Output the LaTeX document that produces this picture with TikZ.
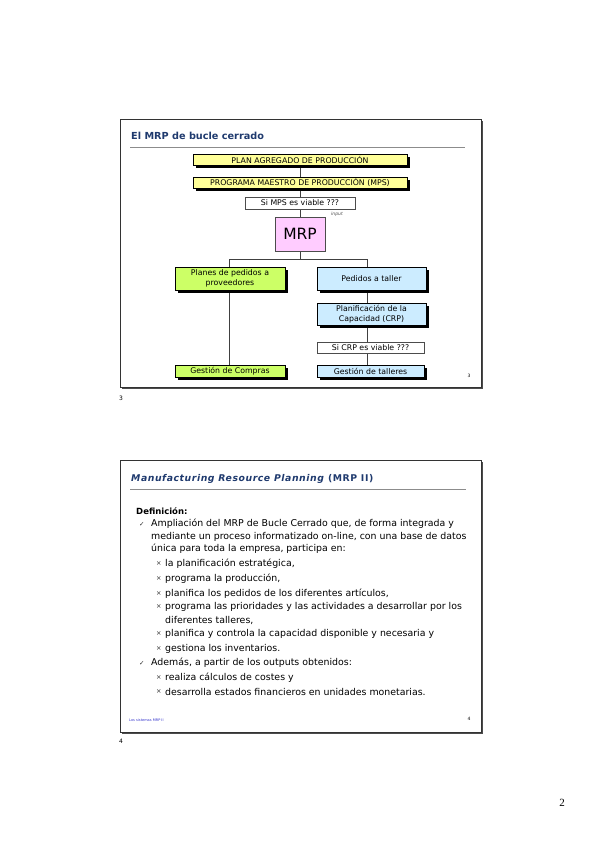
\documentclass[tikz,border=0pt]{standalone}
\usepackage{fontspec}
\setmainfont{DejaVu Sans}
\newfontfamily\serifpn{Liberation Serif}
\newfontfamily\dejavu{DejaVu Sans}
\usetikzlibrary{shadows,backgrounds}
\definecolor{navy}{HTML}{1F3A6E}
\definecolor{byellow}{HTML}{FFFF99}
\definecolor{bgreen}{HTML}{CCFF66}
\definecolor{bblue}{HTML}{CCECFF}
\definecolor{bpink}{HTML}{FFCCFF}
\definecolor{fblue}{HTML}{3333CC}
\tikzset{
  box/.style={draw=black, line width=0.6pt, inner sep=0pt, align=center, font=\fontsize{7.8}{10}\selectfont,
    drop shadow={shadow xshift=3pt, shadow yshift=-3pt, fill=black, opacity=1}},
  plainbox/.style={draw=black!70, line width=0.6pt, fill=white, inner sep=0pt, align=center, font=\fontsize{7.8}{9}\selectfont},
  conn/.style={line width=0.9pt, black!75},
  frame/.style={draw=black!80, line width=0.6pt},
  fshadow/.style={draw=black!70, line width=2pt},
  txt/.style={anchor=west, inner sep=0pt, font=\fontsize{9.4}{10}\selectfont},
  bmark/.style={anchor=west, inner sep=0pt, font=\dejavu\fontsize{6.5}{7}\selectfont, black!80},
}
\begin{document}
\begin{tikzpicture}[x=1pt,y=-1pt]
\useasboundingbox (0,0) rectangle (599,848);
% ---------- slide 1 ----------
\draw[fshadow] (122,388) -- (482,388) -- (482,121);
\draw[frame] (120,119) rectangle (481,387);
\node[anchor=west, inner sep=0pt, text=navy, font=\bfseries\fontsize{9.7}{11}\selectfont] (t1) at (131,136) {El MRP de bucle cerrado};
\draw[black!45, line width=1pt] (130,147) -- (465,147);

\node[box, fill=byellow, minimum width=214pt, minimum height=11pt] (plan) at (300,159.5) {PLAN AGREGADO DE PRODUCCIÓN};
\node[box, fill=byellow, minimum width=214pt, minimum height=11pt] (prog) at (300,182.5) {PROGRAMA MAESTRO DE PRODUCCIÓN (MPS)};
\node[plainbox, minimum width=110pt, minimum height=12pt] (simps) at (300,203) {Si MPS es viable ???};
\node[anchor=west, inner sep=0pt, font=\itshape\fontsize{4.5}{5}\selectfont, black!70] (inp) at (331,214) {input};
\node[draw=black!70, line width=0.6pt, fill=bpink, minimum width=50pt, minimum height=34pt, inner sep=0pt, font=\fontsize{15.5}{17}\selectfont] (mrp) at (300,234) {MRP};

\node[box, fill=bgreen, minimum width=110pt, minimum height=23pt] (planes) at (230,278.5) {Planes de pedidos a\\proveedores};
\node[box, fill=bblue, minimum width=109pt, minimum height=23pt] (pedidos) at (371.5,278.5) {Pedidos a taller};
\node[box, fill=bblue, minimum width=109pt, minimum height=22pt] (planif) at (371.5,314) {Planificación de la\\Capacidad (CRP)};
\node[plainbox, minimum width=107pt, minimum height=11pt] (sicrp) at (370.5,347.5) {Si CRP es viable ???};
\node[box, fill=bblue, minimum width=107pt, minimum height=12pt] (talleres) at (370.5,371) {Gestión de talleres};
\node[box, fill=bgreen, minimum width=110pt, minimum height=12pt] (compras) at (230,371) {Gestión de Compras};

\coordinate (split) at (300,259);
\coordinate (lsplit) at (229,259);
\coordinate (rsplit) at (367,259);
\begin{scope}[on background layer]
\draw[conn] (plan) -- (prog);
\draw[conn] (prog) -- (simps);
\draw[conn] (simps) -- (mrp);
\draw[conn] (mrp) -- (split);
\draw[conn] (lsplit) -- (rsplit);
\draw[conn] (lsplit) -- (lsplit |- compras.north);
\draw[conn] (rsplit) -- (rsplit |- pedidos.north);
\draw[conn] (pedidos.south -| rsplit) -- (planif.north -| rsplit);
\draw[conn] (planif.south -| rsplit) -- (sicrp.north -| rsplit);
\draw[conn] (sicrp.south -| rsplit) -- (talleres.north -| rsplit);
\end{scope}
\node[inner sep=0pt, font=\fontsize{4.5}{5}\selectfont] (pg3) at (469,376) {3};
\node[inner sep=0pt, font=\fontsize{6}{7}\selectfont] (n3) at (121,398) {3};

% ---------- slide 2 ----------
\draw[fshadow] (122,733) -- (482,733) -- (482,462);
\draw[frame] (120,460) rectangle (481,732);
\node[anchor=west, inner sep=0pt, text=navy, font=\fontsize{9.3}{11}\selectfont] (t2) at (131,479) {\addfontfeature{LetterSpace=6}\textbf{\textit{Manufacturing Resource Planning}} \textbf{(MRP II)}};
\draw[black!45, line width=1pt] (130,489) -- (466,489);

\node[txt, font=\bfseries\fontsize{8.5}{9}\selectfont] (def) at (136,511) {Definición:};
\node[bmark] (c1) at (139,524) {✓};
\node[txt] (l1) at (151,524) {Ampliación del MRP de Bucle Cerrado que, de forma integrada y};
\node[txt] (l2) at (151,537) {mediante un proceso informatizado on-line, con una base de datos};
\node[txt] (l3) at (151,549) {única para toda la empresa, participa en:};
\node[bmark] (b1) at (156,564) {×};
\node[txt] (s1) at (165,564) {la planificación estratégica,};
\node[bmark] (b2) at (156,579) {×};
\node[txt] (s2) at (165,579) {programa la producción,};
\node[bmark] (b3) at (156,594) {×};
\node[txt] (s3) at (165,594) {planifica los pedidos de los diferentes artículos,};
\node[bmark] (b4) at (156,607) {×};
\node[txt] (s4) at (165,607) {programa las prioridades y las actividades a desarrollar por los};
\node[txt] (s4b) at (165,620) {diferentes talleres,};
\node[bmark] (b5) at (156,634) {×};
\node[txt] (s5) at (165,634) {planifica y controla la capacidad disponible y necesaria y};
\node[bmark] (b6) at (156,649) {×};
\node[txt] (s6) at (165,649) {gestiona los inventarios.};
\node[bmark] (c2) at (139,663) {✓};
\node[txt] (l4) at (151,663) {Además, a partir de los outputs obtenidos:};
\node[bmark] (b7) at (156,678) {×};
\node[txt] (s7) at (165,678) {realiza cálculos de costes y};
\node[bmark] (b8) at (156,692) {×};
\node[txt] (s8) at (165,692) {desarrolla estados financieros en unidades monetarias.};
\node[anchor=west, inner sep=0pt, text=fblue, font=\fontsize{3.5}{4}\selectfont] (foot) at (129,720) {Los sistemas MRP II};
\node[inner sep=0pt, font=\fontsize{4.5}{5}\selectfont] (pg4) at (469,719) {4};
\node[inner sep=0pt, font=\fontsize{6}{7}\selectfont] (n4) at (121,741) {4};

\node[inner sep=0pt, font=\serifpn\fontsize{11}{12}\selectfont] (page) at (562,803) {2};
\end{tikzpicture}
\end{document}
